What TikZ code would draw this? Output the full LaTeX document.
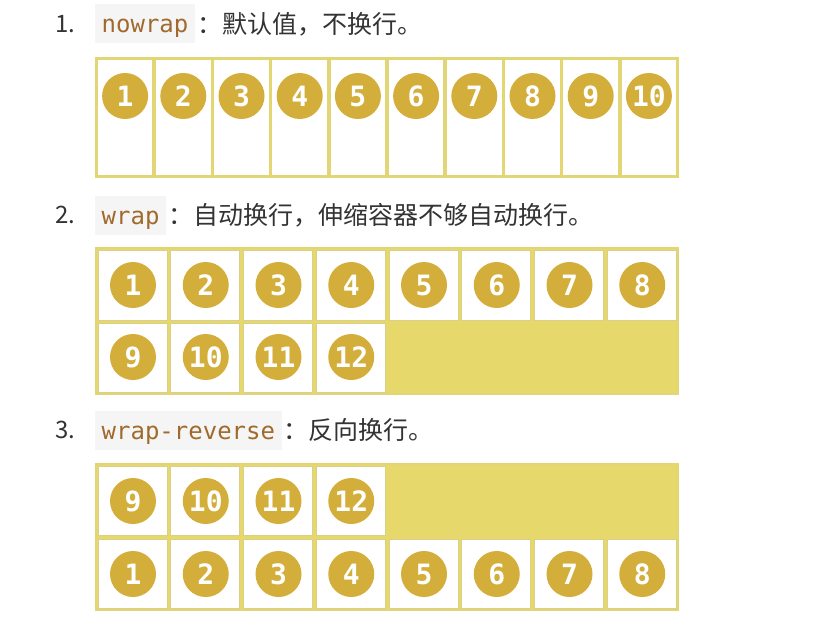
\documentclass[tikz,border=0pt]{standalone}
\usepackage{fontspec}
\setmainfont{Noto Sans CJK SC}
\newfontfamily\codefont{DejaVu Sans Mono}
\newfontfamily\numfont{DejaVu Sans Mono}
\definecolor{ballc}{HTML}{D4AE3A}
\definecolor{lined}{HTML}{E2D575}
\definecolor{cellb}{HTML}{DAD08A}
\definecolor{fillc}{HTML}{E6D86B}
\definecolor{codec}{HTML}{A06A2C}
\definecolor{codebg}{HTML}{F5F5F5}
\definecolor{txt}{HTML}{333333}
\tikzset{
  numlab/.style={anchor=center, inner sep=0pt, text=txt, font=\fontsize{24}{28}\selectfont},
  codebox/.style={anchor=west, fill=codebg, inner xsep=6.5pt, inner ysep=8.5pt, text height=20pt, text depth=2pt, text=codec, font=\codefont\fontsize{24}{28}\selectfont},
  desc/.style={anchor=west, inner sep=0pt, text=txt, font=\fontsize{25}{30}\selectfont},
  ball/.style={circle, fill=ballc, minimum size=46pt, inner sep=0pt, text=white, font=\numfont\bfseries\fontsize{28}{30}\selectfont},
  cont/.style={fill=fillc, draw=lined, line width=1.5pt},
  item/.style={fill=white, draw=cellb, line width=1pt}
}
\begin{document}
\begin{tikzpicture}[x=1pt,y=-1pt]
\useasboundingbox (0,0) rectangle (814,642);
\fill[white] (0,0) rectangle (814,642);
% headings
\node[numlab] (n1) at (65,24) {1.};
\node[codebox] (c1) at (95,24) {nowrap};
\node[desc] (d1) at ([xshift=2pt]c1.east) {：默认值，不换行。};
\node[numlab] (n2) at (65,215) {2.};
\node[codebox] (c2) at (95,215) {wrap};
\node[desc] (d2) at ([xshift=2pt]c2.east) {：自动换行，伸缩容器不够自动换行。};
\node[numlab] (n3) at (65,430) {3.};
\node[codebox] (c3) at (95,430) {wrap-reverse};
\node[desc] (d3) at ([xshift=2pt]c3.east) {：反向换行。};
% section 1
\draw[cont] (96,58) rectangle (678,177);
\foreach \i in {1,...,10}{
  \pgfmathsetmacro{\xa}{96+(\i-1)*58.2}
  \draw[item, line width=1.6pt, draw=lined] (\xa+1,59) rectangle (\xa+57.2,176);
  \node[ball] (a\i) at (\xa+29.1,96) {\i};
}
% section 2
\draw[cont] (96,248) rectangle (678,394);
\foreach \i in {1,...,8}{
  \pgfmathsetmacro{\xa}{96+(\i-1)*72.75}
  \draw[item] (\xa+2,250) rectangle (\xa+71,320);
  \node[ball] (b\i) at (\xa+37,285) {\i};
}
\foreach \i/\n in {1/9,2/10,3/11,4/12}{
  \pgfmathsetmacro{\xa}{96+(\i-1)*72.75}
  \draw[item] (\xa+2,323) rectangle (\xa+71,392);
  \node[ball] (b\n) at (\xa+37,357) {\n};
}
% section 3
\draw[cont] (96,464) rectangle (678,610);
\foreach \i/\n in {1/9,2/10,3/11,4/12}{
  \pgfmathsetmacro{\xa}{96+(\i-1)*72.75}
  \draw[item] (\xa+2,466) rectangle (\xa+71,535);
  \node[ball] (r\n) at (\xa+37,501) {\n};
}
\foreach \i in {1,...,8}{
  \pgfmathsetmacro{\xa}{96+(\i-1)*72.75}
  \draw[item] (\xa+2,539) rectangle (\xa+71,608);
  \node[ball] (r\i) at (\xa+37,574) {\i};
}
\end{tikzpicture}
\end{document}
